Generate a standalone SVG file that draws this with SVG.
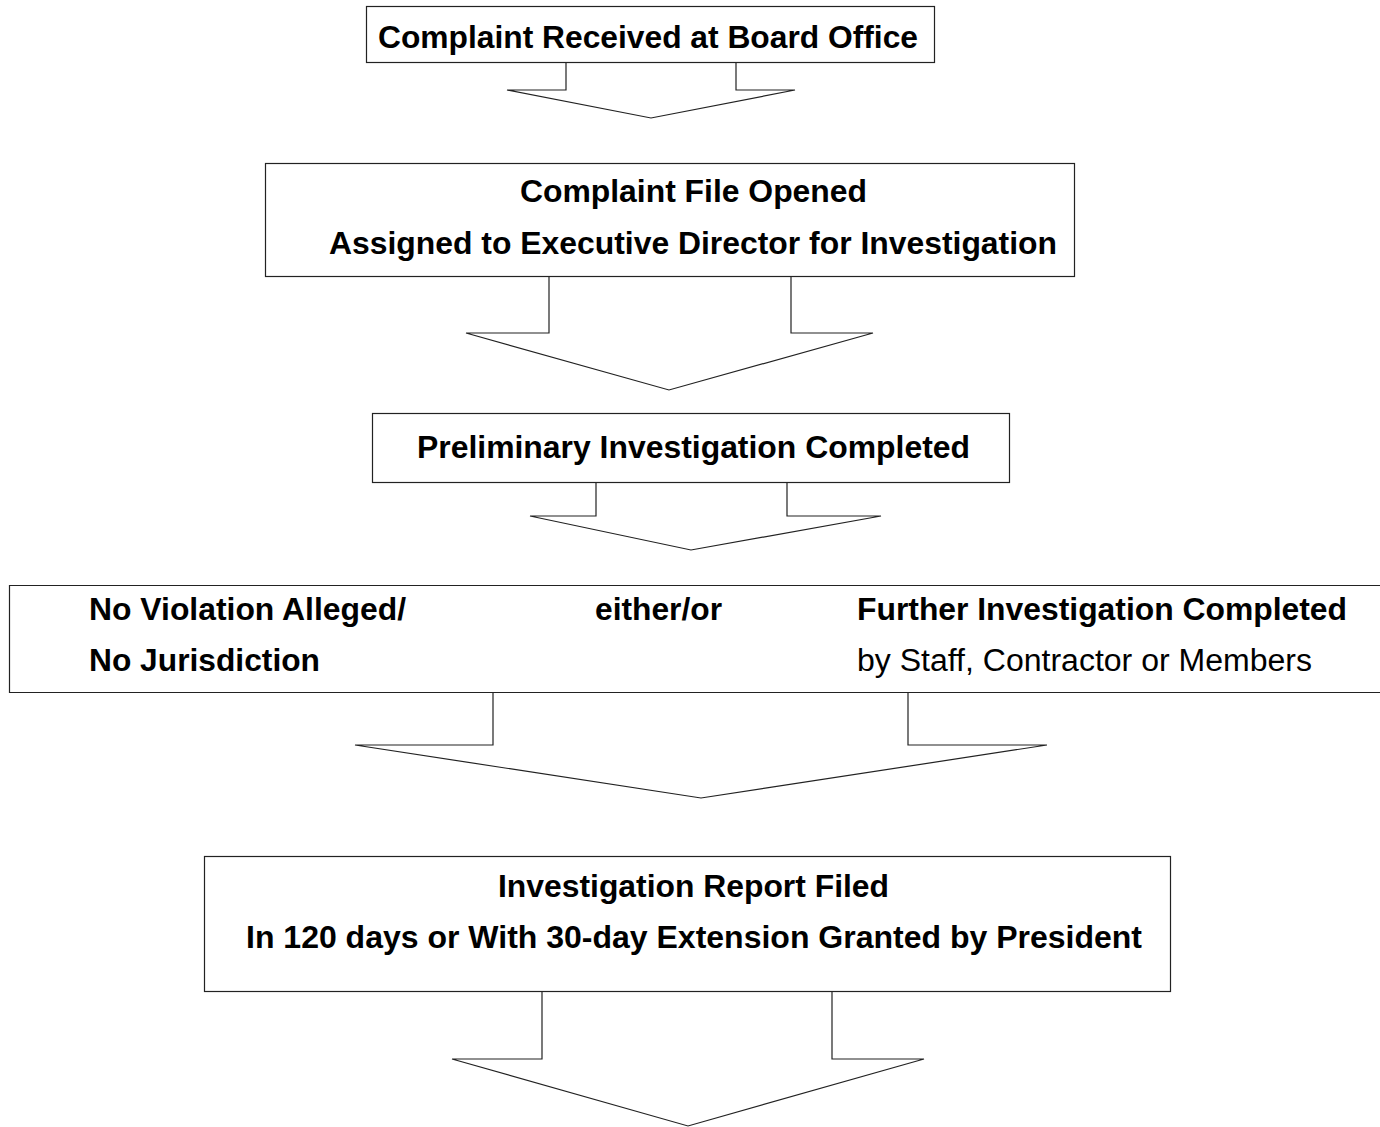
<svg xmlns="http://www.w3.org/2000/svg" width="1380" height="1127" viewBox="0 0 1380 1127">
<style>
.box{fill:#fff;stroke:#222;stroke-width:1.2}
.arr{fill:#fff;stroke:#222;stroke-width:1.2}
.t{font-family:"Liberation Sans",Arial,sans-serif;font-size:31px;font-weight:bold;fill:#000}
.r{font-weight:normal}
</style>
<rect width="1380" height="1127" fill="#fff"/>
<g id="connectors">
<polyline class="arr" points="566,62 566,90 507,90 651,118 795,90 736,90 736,62"/>
<polyline class="arr" points="549,276 549,333 466,333 669,390 873,333 791,333 791,276"/>
<polyline class="arr" points="596,482 596,516 530,516 691,550 881,516 787,516 787,482"/>
<polyline class="arr" points="493,692 493,745 355,745 701,798 1047,745 908,745 908,692"/>
<polyline class="arr" points="542,991 542,1059 452,1059 688,1126 924,1059 832,1059 832,991"/>
</g>
<g id="n1">
<rect class="box" x="366.5" y="6.5" width="568" height="56"/>
<text class="t" x="378" y="48" textLength="540" lengthAdjust="spacingAndGlyphs">Complaint Received at Board Office</text>
</g>
<g id="n2">
<rect class="box" x="265.5" y="163.5" width="809" height="113"/>
<text class="t" x="520" y="202" textLength="347" lengthAdjust="spacingAndGlyphs">Complaint File Opened</text>
<text class="t" x="329" y="254" textLength="728" lengthAdjust="spacingAndGlyphs">Assigned to Executive Director for Investigation</text>
</g>
<g id="n3">
<rect class="box" x="372.5" y="413.5" width="637" height="69"/>
<text class="t" x="417" y="458" textLength="553" lengthAdjust="spacingAndGlyphs">Preliminary Investigation Completed</text>
</g>
<g id="n4">
<path class="box" d="M1385,585.5 H9.5 V692.5 H1385"/>
<text class="t" x="89" y="620" textLength="317" lengthAdjust="spacingAndGlyphs">No Violation Alleged/</text>
<text class="t" x="89" y="671" textLength="231" lengthAdjust="spacingAndGlyphs">No Jurisdiction</text>
<text class="t" x="595" y="620" textLength="127" lengthAdjust="spacingAndGlyphs">either/or</text>
<text class="t" x="857" y="620" textLength="490" lengthAdjust="spacingAndGlyphs">Further Investigation Completed</text>
<text class="t r" x="857" y="671" textLength="455" lengthAdjust="spacingAndGlyphs">by Staff, Contractor or Members</text>
</g>
<g id="n5">
<rect class="box" x="204.5" y="856.5" width="966" height="135"/>
<text class="t" x="498" y="897" textLength="391" lengthAdjust="spacingAndGlyphs">Investigation Report Filed</text>
<text class="t" x="246" y="948" textLength="896" lengthAdjust="spacingAndGlyphs">In 120 days or With 30-day Extension Granted by President</text>
</g>
</svg>
